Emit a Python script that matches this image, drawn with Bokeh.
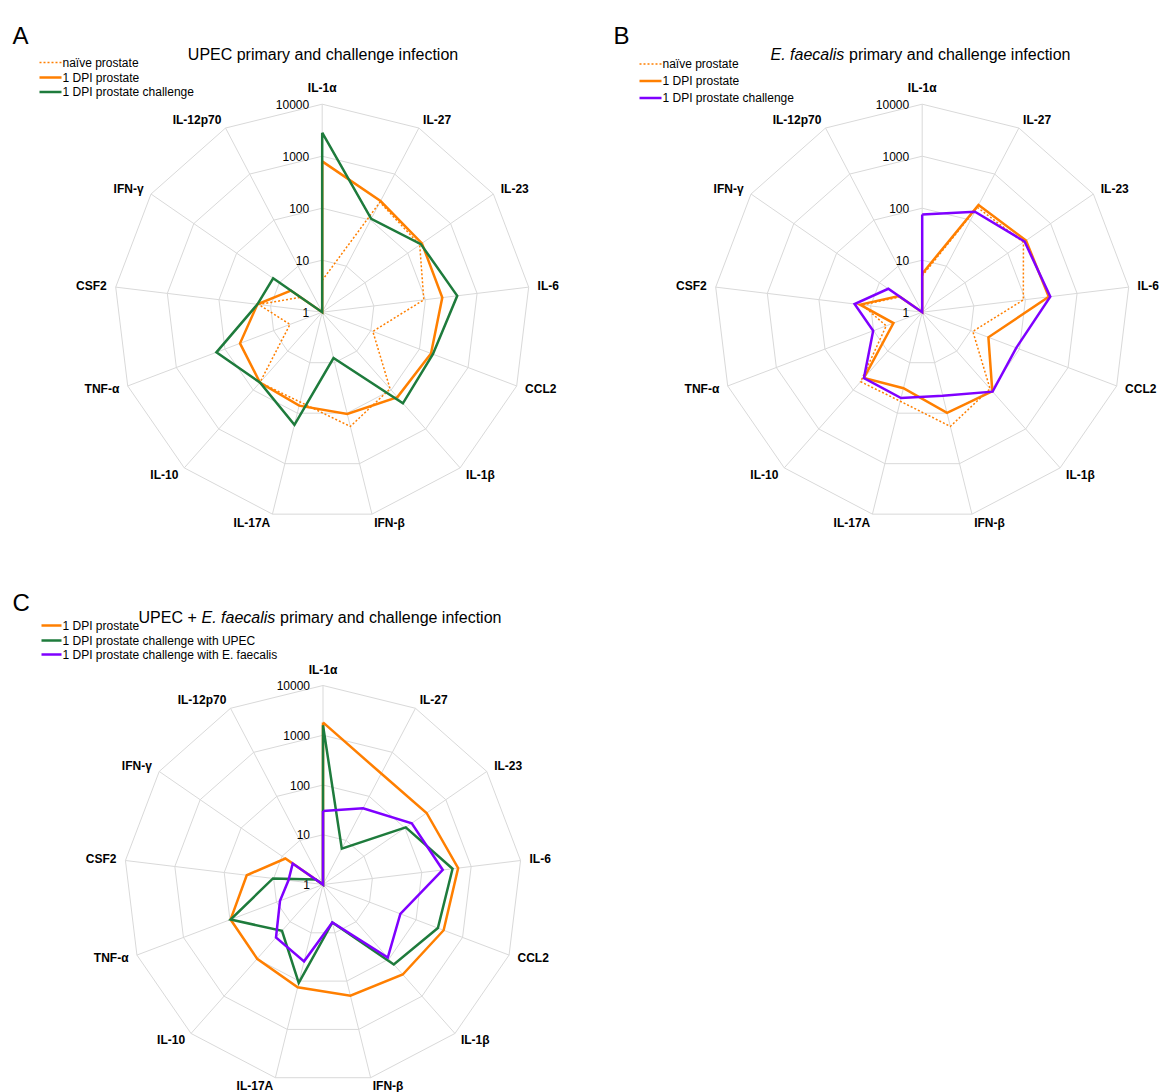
import math
from bokeh.plotting import figure
from bokeh.models import Range1d
from bokeh.core.properties import value
from bokeh.embed import file_html
from bokeh.resources import INLINE

# ---------------- data ----------------
categories = ["IL-1α", "IL-27", "IL-23", "IL-6", "CCL2", "IL-1β", "IFN-β",
              "IL-17A", "IL-10", "TNF-α", "CSF2", "IFN-γ", "IL-12p70"]
tick_values = [1, 10, 100, 1000, 10000]
tick_labels = ["1", "10", "100", "1000", "10000"]

# Panel A: UPEC primary and challenge infection
a_naive = [4.1, 245, 190, 93, 11, 93, 183, 60, 64, 4.6, 17, 3.2, 1]
a_dpi = [795, 259, 214, 212, 173, 152, 104, 71, 64, 49, 18, 5.4, 1]
a_challenge = [2830, 107, 202, 413, 189, 219, 8.1, 170, 64, 150, 18, 14, 1]

# Panel B: E. faecalis primary and challenge infection
b_naive = [5.0, 190, 232, 91, 11, 93, 183, 58, 61, 5.5, 14.5, 3.3, 1]
b_dpi = [5.5, 214, 267, 283, 23, 108, 99, 32, 49, 3.9, 16, 3.5, 1]
b_challenge = [76, 152, 247, 303, 86, 110, 45, 50, 49, 10.2, 20.4, 6.2, 1]

# Panel C: UPEC + E. faecalis primary and challenge infection
c_dpi = [1810, 330, 339, 545, 392, 261, 200, 134, 99, 97, 35, 8.3, 1]
c_upec = [1590, 6.5, 105, 420, 295, 140, 6.1, 109, 17.5, 97, 10.3, 1.5, 1]
c_efaecalis = [30, 54, 147, 266, 46, 92, 6.1, 39, 26.6, 8.4, 5.0, 5.5, 1]

legend_a = ["naïve prostate", "1 DPI prostate", "1 DPI prostate challenge"]
legend_b = ["naïve prostate", "1 DPI prostate", "1 DPI prostate challenge"]
legend_c = ["1 DPI prostate", "1 DPI prostate challenge with UPEC",
            "1 DPI prostate challenge with E. faecalis"]

# ---------------- styles ----------------
ORANGE = "#FF7F00"
GREEN = "#1E7B3C"
PURPLE = "#7F00FF"
GRID = "#D9D9D9"
FONT = value("Liberation Sans")

W, H = 1159, 1092
p = figure(width=W, height=H, output_backend="svg", toolbar_location=None,
           x_range=Range1d(0, W), y_range=Range1d(H, 0),
           min_border=0, outline_line_color=None, tools="")
p.axis.visible = False
p.grid.visible = False

N = len(categories)
angles = [2 * math.pi * k / N for k in range(N)]
decades = math.log10(tick_values[-1])


def radius(v, R):
    return R * math.log10(max(v, tick_values[0])) / decades


def draw_radar(cx, cy, R, series):
    # grid rings
    xs, ys = [], []
    for tv in tick_values[1:]:
        r = radius(tv, R)
        ring_x = [cx + r * math.sin(a) for a in angles] + [cx]
        ring_y = [cy - r * math.cos(a) for a in angles] + [cy - r]
        xs.append(ring_x)
        ys.append(ring_y)
    for a in angles:
        xs.append([cx, cx + R * math.sin(a)])
        ys.append([cy, cy - R * math.cos(a)])
    p.multi_line(xs, ys, line_color=GRID, line_width=1)

    # tick labels
    p.text(x=[cx - 13] * len(tick_values),
           y=[cy - radius(tv, R) for tv in tick_values],
           text=tick_labels, text_align="right", text_baseline="middle",
           text_font=FONT, text_font_size="12px", text_color="#000000")

    # category labels
    groups = {}
    for cat, a in zip(categories, angles):
        s, c = math.sin(a), math.cos(a)
        ax = cx + (R + 9) * s
        ay = cy - (R + 9) * c
        align = "left" if s > 0.05 else ("right" if s < -0.05 else "center")
        base = "bottom" if c > 0.95 else "middle"
        groups.setdefault((align, base), ([], [], []))
        g = groups[(align, base)]
        g[0].append(ax)
        g[1].append(ay)
        g[2].append(cat)
    for (align, base), (gx, gy, gt) in groups.items():
        p.text(x=gx, y=gy, text=gt, text_align=align, text_baseline=base,
               text_font=FONT, text_font_size="12px", text_font_style="bold",
               text_color="#000000")

    # series
    for vals, color, width, dash in series:
        px = [cx + radius(v, R) * math.sin(a) for v, a in zip(vals, angles)]
        py = [cy - radius(v, R) * math.cos(a) for v, a in zip(vals, angles)]
        px.append(px[0])
        py.append(py[0])
        p.line(px, py, line_color=color, line_width=width, line_dash=dash,
               line_join="miter")


def draw_legend(x0, x1, tx, rows_y, labels, styles):
    for y, lab, (color, width, dash) in zip(rows_y, labels, styles):
        p.line([x0, x1], [y, y], line_color=color, line_width=width, line_dash=dash)
    p.text(x=[tx] * len(labels), y=rows_y, text=labels, text_align="left",
           text_baseline="middle", text_font=FONT, text_font_size="12px",
           text_color="#000000")


dotted = (ORANGE, 1.5, "2 2")
solid_o = (ORANGE, 2.5, "solid")
solid_g = (GREEN, 2.5, "solid")
solid_p = (PURPLE, 2.5, "solid")

# Panel A
draw_radar(321.7, 311.7, 208, [(a_naive,) + dotted, (a_dpi,) + solid_o,
                               (a_challenge,) + solid_g])
draw_legend(39, 61, 62, [62, 77, 91.5], legend_a, [dotted, solid_o, solid_g])

# Panel B
draw_radar(921.7, 311.7, 208, [(b_naive,) + dotted, (b_dpi,) + solid_o,
                               (b_challenge,) + solid_p])
draw_legend(639, 661, 662, [63.5, 80.5, 97.5], legend_b, [dotted, solid_o, solid_p])

# Panel C
draw_radar(322.5, 884, 199, [(c_dpi,) + solid_o, (c_upec,) + solid_g,
                             (c_efaecalis,) + solid_p])
draw_legend(41, 61, 62, [625, 640, 654], legend_c, [solid_o, solid_g, solid_p])

# panel letters
p.text(x=[12, 613, 12], y=[35, 35, 602], text=["A", "B", "C"],
       text_align="left", text_baseline="alphabetic", text_font=FONT,
       text_font_size="24px", text_color="#000000")

# titles
p.text(x=[322.5], y=[53.5], text=["UPEC primary and challenge infection"],
       text_align="center", text_baseline="alphabetic", text_font=FONT,
       text_font_size="16px", text_color="#000000")
p.text(x=[770], y=[54.3], text=["E. faecalis"], text_align="left",
       text_baseline="alphabetic", text_font=FONT, text_font_size="16px",
       text_font_style="italic", text_color="#000000")
p.text(x=[848.5], y=[54.3], text=["primary and challenge infection"],
       text_align="left", text_baseline="alphabetic", text_font=FONT,
       text_font_size="16px", text_color="#000000")
p.text(x=[138], y=[616.7], text=["UPEC +"], text_align="left",
       text_baseline="alphabetic", text_font=FONT, text_font_size="16px",
       text_color="#000000")
p.text(x=[201], y=[616.7], text=["E. faecalis"], text_align="left",
       text_baseline="alphabetic", text_font=FONT, text_font_size="16px",
       text_font_style="italic", text_color="#000000")
p.text(x=[279.5], y=[616.7], text=["primary and challenge infection"],
       text_align="left", text_baseline="alphabetic", text_font=FONT,
       text_font_size="16px", text_color="#000000")

open("out.html", "w").write(file_html(p, INLINE))
